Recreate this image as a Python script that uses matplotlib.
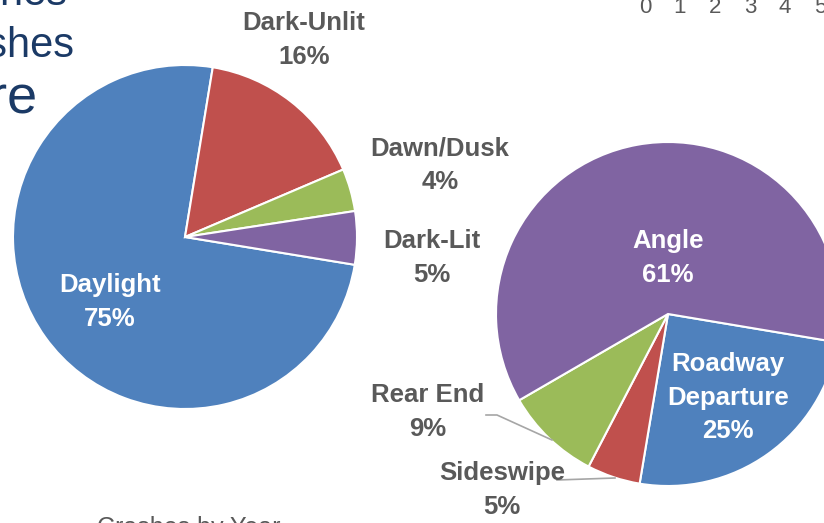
import matplotlib.pyplot as plt

# lighting condition pie
light_labels = ['Daylight', 'Dark-Unlit', 'Dawn/Dusk', 'Dark-Lit']
light_values = [75, 16, 4, 5]

# crash type pie
type_labels = ['Roadway\nDeparture', 'Sideswipe', 'Rear End', 'Angle']
type_values = [25, 5, 9, 61]

colors_light = ['#4F81BD', '#C0504D', '#9BBB59', '#8064A2']
colors_type = ['#4F81BD', '#C0504D', '#9BBB59', '#8064A2']

axis_ticks = ['0', '1', '2', '3', '4', '5']

W, H = 824, 523
GRAY = '#595959'
NAVY = '#1B3A66'


def py(y):
    # convert pixel row (from top) to data y
    return H - y


plt.rcParams['font.family'] = ['Liberation Sans', 'DejaVu Sans']

fig = plt.figure(figsize=(W / 100, H / 100), dpi=100)
ax = fig.add_axes([0, 0, 1, 1])

wedge = dict(edgecolor='white', linewidth=1.5)
ax.pie(light_values, colors=colors_light, startangle=-9.3, counterclock=False,
       center=(185, py(237)), radius=172, wedgeprops=wedge)
ax.pie(type_values, colors=colors_type, startangle=-9.5, counterclock=False,
       center=(668, py(314)), radius=172, wedgeprops=wedge)

ax.set_xlim(0, W)
ax.set_ylim(0, H)
ax.set_aspect('equal')
ax.axis('off')

lbl = dict(fontsize=18.5, fontweight='bold', ha='center', va='center', linespacing=1.5)

# left pie labels
ax.text(110, py(302), f'{light_labels[0]}\n{light_values[0]}%', color='white', **lbl)
ax.text(304, py(40), f'{light_labels[1]}\n{light_values[1]}%', color=GRAY, **lbl)
ax.text(440, py(165), f'{light_labels[2]}\n{light_values[2]}%', color=GRAY, **lbl)
ax.text(432, py(258), f'{light_labels[3]}\n{light_values[3]}%', color=GRAY, **lbl)

# right pie labels
ax.text(728, py(398), f'{type_labels[0]}\n{type_values[0]}%', color='white', **lbl)
ax.text(502, py(490), f'{type_labels[1]}\n{type_values[1]}%', color=GRAY, **lbl)
ax.text(428, py(412), f'{type_labels[2]}\n{type_values[2]}%', color=GRAY, **lbl)
ax.text(668, py(258), f'{type_labels[3]}\n{type_values[3]}%', color='white', **lbl)

# leader lines
ax.plot([486, 497, 552], [py(415), py(415), py(440)], color='#A6A6A6', lw=1.2)
ax.plot([557, 615], [py(480), py(478)], color='#A6A6A6', lw=1.2)

# slide title fragments cut off at the left edge
ax.text(68, py(5), 'Phones', color=NAVY, fontsize=30, ha='right', va='baseline')
ax.text(75, py(57), 'Crashes', color=NAVY, fontsize=30, ha='right', va='baseline')
ax.text(38, py(113), 'are', color=NAVY, fontsize=39, ha='right', va='baseline')

# axis tick labels of a chart above, cut off at the top
for i, t in enumerate(axis_ticks):
    ax.text(645 + 35 * i, py(13), t, color=GRAY, fontsize=16, ha='center', va='baseline')

# caption cut off at the bottom
ax.text(97, py(516), 'Crashes by Year', color=GRAY, fontsize=18, ha='left', va='top')

fig.savefig('out.png', dpi=100)
